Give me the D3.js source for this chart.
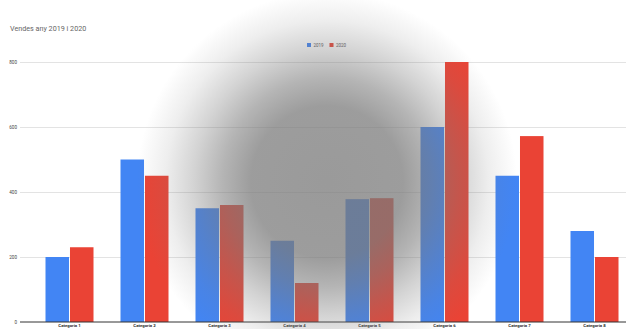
<!DOCTYPE html>
<html>
<head>
<meta charset="utf-8">
<script src="https://cdn.jsdelivr.net/npm/d3@7"></script>
<style>
  body { margin: 0; background: #fff; }
  text { font-family: Roboto, Arial, sans-serif; }
  .grid line { stroke: #e3e3e3; stroke-width: 1; }
</style>
</head>
<body>
<div id="viz_container"></div>
<script>
// chart data
const categories = ["Categoria 1", "Categoria 2", "Categoria 3", "Categoria 4",
                    "Categoria 5", "Categoria 6", "Categoria 7", "Categoria 8"];
const seriesNames = ["2019", "2020"];
const values2019 = [200, 500, 350, 250, 378, 600, 450, 280];
const values2020 = [230, 450, 360, 120, 381, 800, 572, 200];
const yTicks = [0, 200, 400, 600, 800];

const colors = ["#4285f4", "#ea4335"];

// dimensions
const W = 626, H = 329;
const plot = {left: 20, right: 626, top: 62, bottom: 322};

const svg = d3.select("#viz_container")
  .append("svg")
    .attr("width", W)
    .attr("height", H);

// scales
const xScale = d3.scaleBand()
  .domain(categories)
  .range([32, 632])
  .paddingInner(0.36)
  .paddingOuter(0.18);

const xSub = d3.scaleBand()
  .domain(seriesNames)
  .range([0, xScale.bandwidth()])
  .paddingInner(0.04);

const yScale = d3.scaleLinear()
  .domain([0, 800])
  .range([plot.bottom, plot.top]);

// horizontal grid lines
svg.append("g")
    .attr("class", "grid")
    .attr("transform", `translate(${plot.left}, 0)`)
  .call(d3.axisLeft(yScale)
    .tickValues(yTicks.slice(1))
    .tickSize(-(plot.right - plot.left))
    .tickFormat(""))
  .call(g => g.select(".domain").remove());

// y tick labels
svg.append("g")
  .selectAll("text")
  .data(yTicks)
  .join("text")
    .attr("x", 17)
    .attr("y", d => yScale(d) + 1.6)
    .attr("text-anchor", "end")
    .attr("font-size", 4.6)
    .attr("fill", "#444")
  .text(d => d);

// bars
const rows = categories.map((c, i) => ({cat: c, vals: [values2019[i], values2020[i]]}));

svg.append("g")
  .selectAll("g")
  .data(rows)
  .join("g")
    .attr("transform", d => `translate(${xScale(d.cat)}, 0)`)
  .selectAll("rect")
  .data(d => d.vals.map((v, j) => ({key: seriesNames[j], value: v, j: j})))
  .join("rect")
    .attr("x", d => xSub(d.key))
    .attr("y", d => yScale(d.value))
    .attr("width", xSub.bandwidth())
    .attr("height", d => yScale(0) - yScale(d.value))
    .attr("fill", d => colors[d.j]);

// baseline
svg.append("line")
    .attr("x1", plot.left)
    .attr("x2", plot.right)
    .attr("y1", yScale(0))
    .attr("y2", yScale(0))
    .attr("stroke", "#333")
    .attr("stroke-width", 1);

// category labels
svg.append("g")
  .selectAll("text")
  .data(categories)
  .join("text")
    .attr("x", d => xScale(d) + xScale.bandwidth() / 2)
    .attr("y", 327)
    .attr("text-anchor", "middle")
    .attr("font-size", 4.3)
    .attr("font-weight", "bold")
    .attr("fill", "#333")
  .text(d => d);

// title
svg.append("text")
    .attr("x", 10)
    .attr("y", 31)
    .attr("font-size", 7.2)
    .attr("fill", "#666")
  .text("Vendes any 2019 i 2020");

// legend
const legend = svg.append("g")
  .selectAll("g")
  .data(seriesNames)
  .join("g")
    .attr("transform", (d, i) => `translate(${307 + i * 22.5}, 43)`);
legend.append("rect")
    .attr("width", 4)
    .attr("height", 4)
    .attr("fill", (d, i) => colors[i]);
legend.append("text")
    .attr("x", 6.5)
    .attr("y", 3.8)
    .attr("font-size", 4.5)
    .attr("fill", "#555")
  .text(d => d);

// gray shadow over the middle of the picture
const defs = svg.append("defs");
const grad = defs.append("radialGradient")
    .attr("id", "shade")
    .attr("gradientUnits", "userSpaceOnUse")
    .attr("cx", 327).attr("cy", 182).attr("r", 190);
[[0, 0.76], [0.4, 0.74], [0.55, 0.56], [0.7, 0.33], [0.85, 0.13], [1, 0]]
  .forEach(s => grad.append("stop")
    .attr("offset", s[0])
    .attr("stop-color", "#7a7a7a")
    .attr("stop-opacity", s[1]));
svg.append("rect")
    .attr("width", W)
    .attr("height", H)
    .attr("fill", "url(#shade)");
</script>
</body>
</html>
